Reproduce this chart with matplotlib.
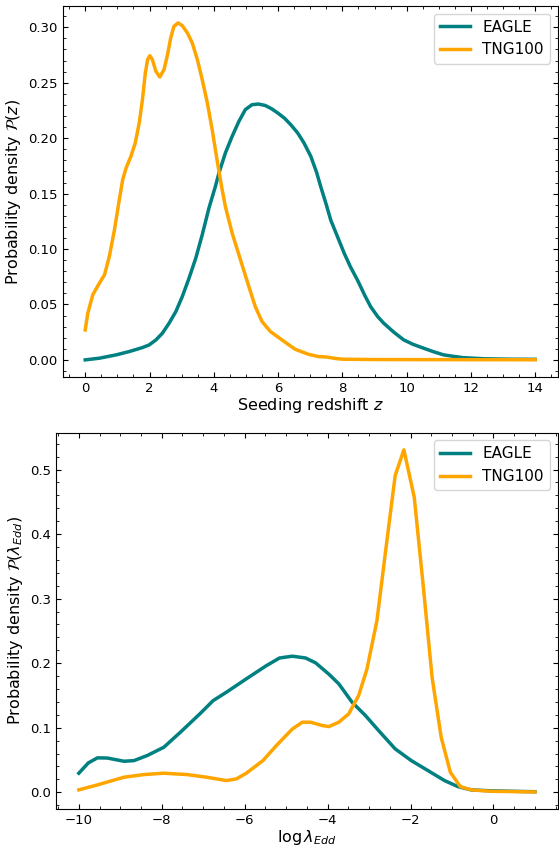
import numpy as np
import matplotlib
matplotlib.use('Agg')
import matplotlib.pyplot as plt
from matplotlib.ticker import AutoMinorLocator

# 数据准备 -- seeding redshift distribution
z_eagle = [0.0, 0.44, 0.96, 1.37, 1.78, 1.99, 2.2, 2.4, 2.61, 2.82, 3.02, 3.23,
           3.44, 3.64, 3.85, 4.05, 4.16, 4.36, 4.57, 4.78, 4.98, 5.19, 5.39,
           5.6, 5.8, 6.0, 6.2, 6.4, 6.61, 6.8, 7.02, 7.2, 7.33, 7.5, 7.64,
           7.85, 8.06, 8.25, 8.47, 8.7, 8.88, 9.1, 9.29, 9.6, 9.91, 10.2,
           10.53, 10.85, 11.15, 11.5, 11.76, 12.4, 13.2, 14.0]
p_eagle = [0.0, 0.0015, 0.0045, 0.0075, 0.0111, 0.0135, 0.018, 0.024, 0.0331,
           0.0436, 0.0571, 0.0737, 0.0918, 0.1128, 0.137, 0.1565, 0.1685,
           0.1866, 0.2016, 0.2151, 0.2257, 0.2302, 0.2308, 0.2295, 0.2265,
           0.2225, 0.218, 0.212, 0.2047, 0.196, 0.1835, 0.169, 0.156, 0.14,
           0.126, 0.111, 0.096, 0.084, 0.072, 0.058, 0.048, 0.039, 0.033,
           0.025, 0.018, 0.014, 0.0105, 0.0072, 0.0045, 0.003, 0.002, 0.001,
           0.0006, 0.0005]

z_tng = [0.0, 0.08, 0.235, 0.44, 0.6, 0.75, 0.91, 1.06, 1.165, 1.27, 1.42,
         1.556, 1.68, 1.78, 1.87, 1.94, 2.01, 2.09, 2.2, 2.32, 2.45, 2.56,
         2.66, 2.76, 2.89, 3.02, 3.18, 3.33, 3.49, 3.64, 3.8, 3.95, 4.1,
         4.26, 4.36, 4.57, 4.83, 5.09, 5.29, 5.5, 5.76, 6.12, 6.53, 6.94,
         7.25, 7.5, 7.8, 8.0, 9.0, 11.0, 14.0]
p_tng = [0.027, 0.042, 0.0587, 0.0692, 0.0767, 0.0933, 0.1174, 0.1444, 0.1625,
         0.173, 0.1835, 0.1956, 0.2137, 0.2347, 0.2588, 0.2708, 0.2744, 0.2708,
         0.2603, 0.2552, 0.2618, 0.2753, 0.2904, 0.3009, 0.304, 0.3015, 0.2949,
         0.2859, 0.2708, 0.2528, 0.2317, 0.2076, 0.1806, 0.1535, 0.1384,
         0.1144, 0.0903, 0.0662, 0.0481, 0.0346, 0.0256, 0.018, 0.0096, 0.0051,
         0.003, 0.0026, 0.0012, 0.0006, 0.0003, 0.0002, 0.0001]

# Eddington ratio distribution
l_eagle = [-10.0, -9.77, -9.55, -9.31, -8.91, -8.67, -8.35, -7.95, -7.55, -7.08,
           -6.76, -6.44, -5.96, -5.48, -5.16, -4.85, -4.53, -4.29, -3.97,
           -3.73, -3.41, -3.09, -2.77, -2.37, -1.98, -1.58, -1.18, -0.86,
           -0.54, -0.06, 1.0]
pl_eagle = [0.0295, 0.0455, 0.0533, 0.053, 0.048, 0.049, 0.0569, 0.0697, 0.093,
            0.1215, 0.142, 0.155, 0.1757, 0.196, 0.208, 0.2108, 0.208, 0.2005,
            0.183, 0.168, 0.1395, 0.119, 0.0956, 0.0672, 0.049, 0.0336, 0.0181,
            0.0088, 0.0037, 0.0022, 0.0008]

l_tng = [-10.0, -9.55, -8.91, -8.43, -7.95, -7.39, -6.92, -6.44, -6.20, -5.96,
         -5.56, -5.24, -4.85, -4.61, -4.41, -4.13, -3.97, -3.73, -3.49, -3.25,
         -3.05, -2.81, -2.61, -2.37, -2.16, -1.91, -1.69, -1.48, -1.26, -1.04,
         -0.80, -0.54, -0.06, 1.0]
pl_tng = [0.0037, 0.0114, 0.0233, 0.0274, 0.0295, 0.0274, 0.0233, 0.0181,
          0.0207, 0.0295, 0.049, 0.072, 0.098, 0.1085, 0.1085, 0.1034, 0.1017,
          0.1085, 0.1215, 0.15, 0.191, 0.266, 0.369, 0.4907, 0.5305, 0.457,
          0.3176, 0.178, 0.085, 0.031, 0.0088, 0.0037, 0.0015, 0.0005]

c_eagle = '#008080'
c_tng = '#FFA500'

fig = plt.figure(figsize=(5.59, 8.5), dpi=100)
ax1 = fig.add_axes([0.1122, 0.5568, 0.8855, 0.4361])
ax2 = fig.add_axes([0.1002, 0.0482, 0.8975, 0.4427])

ax1.plot(z_eagle, p_eagle, color=c_eagle, lw=2.5, label='EAGLE')
ax1.plot(z_tng, p_tng, color=c_tng, lw=2.5, label='TNG100')
ax1.set_xlabel('Seeding redshift $z$', fontsize=11.5, labelpad=1)
ax1.set_ylabel(r'Probability density $\mathcal{P}(z)$', fontsize=11.5)
ax1.set_xticks(np.arange(0, 15, 2))

ax2.plot(l_eagle, pl_eagle, color=c_eagle, lw=2.5, label='EAGLE')
ax2.plot(l_tng, pl_tng, color=c_tng, lw=2.5, label='TNG100')
ax2.set_xlabel(r'$\log\lambda_{Edd}$', fontsize=11.5, labelpad=1)
ax2.set_ylabel(r'Probability density $\mathcal{P}(\lambda_{Edd})$', fontsize=11.5)

for ax in (ax1, ax2):
    ax.xaxis.set_minor_locator(AutoMinorLocator())
    ax.yaxis.set_minor_locator(AutoMinorLocator())
    ax.tick_params(which='both', direction='in', top=True, right=True, labelsize=9.5)
    ax.legend(loc='upper right', fontsize=11)

plt.savefig('out.png', dpi=100)
